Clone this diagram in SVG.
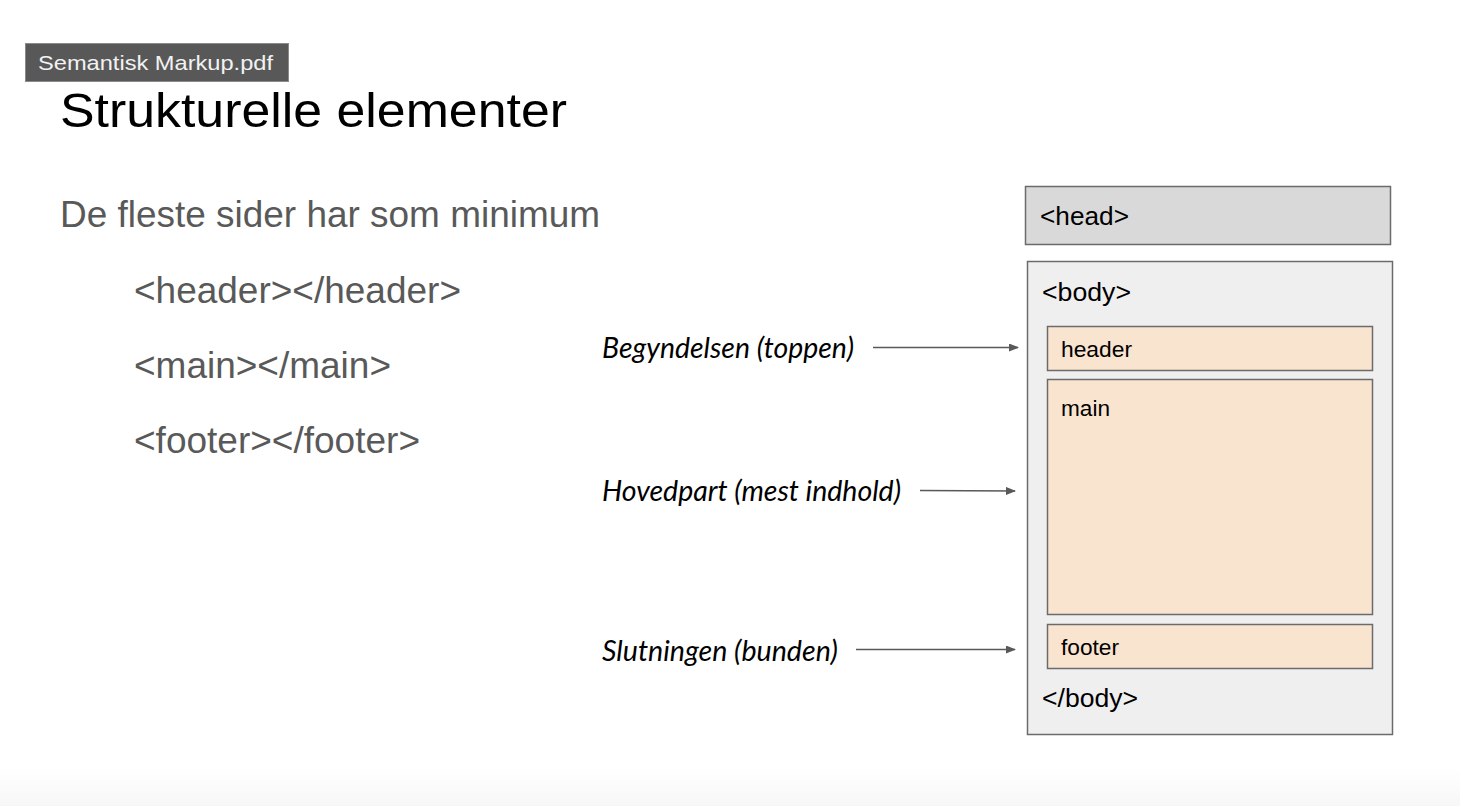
<svg xmlns="http://www.w3.org/2000/svg" width="1460" height="806" viewBox="0 0 1460 806">
<style>
.sans{font-family:"Liberation Sans",Arial,sans-serif}
.grey{fill:#595959;font-size:36px}
.box{stroke:#6b6b6b;stroke-width:1.5}
.tag{font-size:25px;fill:#000}
.sec{fill:#f9e4d0}
.sectxt{font-size:22px;fill:#000}
.lbl{font-family:Lato,"Open Sans",sans-serif;font-style:italic;font-size:28px;fill:#000}
.conn{stroke:#595959;stroke-width:1.5;fill:none}
</style>
<defs>
<linearGradient id="bot" x1="0" y1="0" x2="0" y2="1">
<stop offset="0" stop-color="#ffffff"/>
<stop offset="1" stop-color="#f7f7f7"/>
</linearGradient>
<marker id="arr" markerWidth="10" markerHeight="8" refX="9" refY="4" orient="auto" markerUnits="userSpaceOnUse">
<path d="M0,0 L10,4 L0,8 Z" fill="#595959"/>
</marker>
</defs>
<rect x="0" y="0" width="1460" height="806" fill="#ffffff"/>
<rect x="0" y="768" width="1460" height="38" fill="url(#bot)"/>

<g id="tooltip">
<rect x="25.5" y="43.5" width="263" height="38" fill="#585858" stroke="#8a8a8a" stroke-width="1"/>
<text x="38" y="70" class="sans" font-size="21" fill="#f2f2f2" textLength="235" lengthAdjust="spacingAndGlyphs">Semantisk Markup.pdf</text>
</g>

<g id="title">
<text x="60" y="127" class="sans" font-size="49" fill="#000" textLength="507" lengthAdjust="spacingAndGlyphs">Strukturelle elementer</text>
</g>

<g id="list">
<text x="60" y="227" class="sans grey" textLength="540" lengthAdjust="spacingAndGlyphs">De fleste sider har som minimum</text>
<text x="134" y="303" class="sans grey" textLength="327" lengthAdjust="spacingAndGlyphs">&lt;header&gt;&lt;/header&gt;</text>
<text x="134" y="378" class="sans grey" textLength="257" lengthAdjust="spacingAndGlyphs">&lt;main&gt;&lt;/main&gt;</text>
<text x="134" y="453" class="sans grey" textLength="286" lengthAdjust="spacingAndGlyphs">&lt;footer&gt;&lt;/footer&gt;</text>
</g>

<g id="head">
<rect x="1025.5" y="186.5" width="365" height="58" fill="#d9d9d9" class="box"/>
<text x="1040" y="225" class="sans tag" textLength="89" lengthAdjust="spacingAndGlyphs">&lt;head&gt;</text>
</g>

<g id="body">
<rect x="1027.5" y="261.5" width="365" height="473" fill="#efefef" class="box"/>
<text x="1042" y="301" class="sans tag" textLength="89" lengthAdjust="spacingAndGlyphs">&lt;body&gt;</text>
<text x="1042" y="707" class="sans tag" textLength="96" lengthAdjust="spacingAndGlyphs">&lt;/body&gt;</text>
</g>

<g id="header">
<rect x="1047.5" y="326.5" width="325" height="44" class="sec box"/>
<text x="1061" y="357" class="sans sectxt" textLength="71" lengthAdjust="spacingAndGlyphs">header</text>
</g>

<g id="main">
<rect x="1047.5" y="379.5" width="325" height="235" class="sec box"/>
<text x="1061" y="416" class="sans sectxt" textLength="49" lengthAdjust="spacingAndGlyphs">main</text>
</g>

<g id="footer">
<rect x="1047.5" y="624.5" width="325" height="44" class="sec box"/>
<text x="1061" y="655" class="sans sectxt" textLength="58" lengthAdjust="spacingAndGlyphs">footer</text>
</g>

<g id="labels">
<text x="602" y="358" class="lbl" textLength="252" lengthAdjust="spacingAndGlyphs">Begyndelsen (toppen)</text>
<text x="602" y="501" class="lbl" textLength="299" lengthAdjust="spacingAndGlyphs">Hovedpart (mest indhold)</text>
<text x="602" y="661" class="lbl" textLength="236" lengthAdjust="spacingAndGlyphs">Slutningen (bunden)</text>
</g>

<g id="connectors">
<line x1="873" y1="347.5" x2="1018" y2="347.5" class="conn" marker-end="url(#arr)"/>
<line x1="920" y1="490.5" x2="1015" y2="491" class="conn" marker-end="url(#arr)"/>
<line x1="856" y1="649.5" x2="1015" y2="649.5" class="conn" marker-end="url(#arr)"/>
</g>
</svg>
